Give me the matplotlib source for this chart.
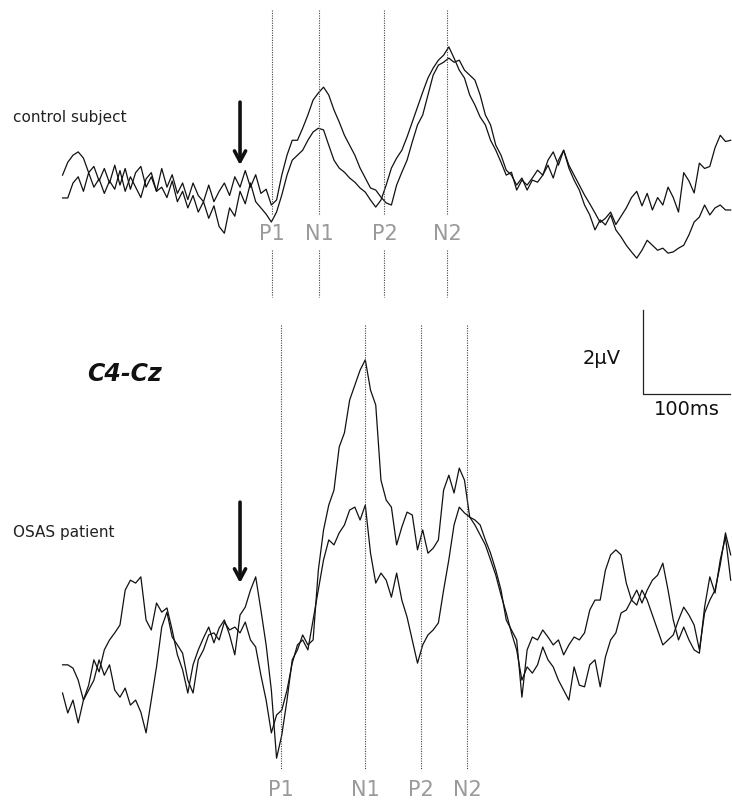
import numpy as np
import matplotlib
matplotlib.use("Agg")
import matplotlib.pyplot as plt

# sweeps are sampled every 6 ms, starting 204 ms before the stimulus (arrow)
t_start = -204
dt = 6

# control subject, two averaged sweeps (uV)
ctrl_a = [0.24, 0.55, 0.72, 0.80, 0.65, 0.30, 0.45, 0.10, 0.40, 0.05,
          0.48, 0.0, 0.40, -0.10, 0.30, 0.45, -0.05, 0.20, -0.15, 0.40,
          -0.05, 0.25, -0.20, 0.05, -0.35, 0.05, -0.25, -0.40, 0.0, -0.40,
          -0.15, 0.05, -0.25, 0.20, -0.05, 0.35, -0.05, 0.25, -0.20, -0.10,
          -0.48, -0.36, 0.24, 0.72, 1.08, 1.08, 1.37, 1.69, 2.05, 2.22,
          2.36, 2.17, 1.81, 1.52, 1.20, 0.96, 0.72, 0.41, 0.17, -0.07,
          -0.12, -0.29, -0.43, -0.48, 0.0, 0.31, 0.60, 1.04, 1.45, 1.69,
          2.17, 2.65, 2.89, 2.96, 3.06, 2.96, 3.01, 2.77, 2.65, 2.53,
          2.17, 1.69, 1.45, 0.96, 0.72, 0.36, 0.24, 0.0, 0.17, -0.12,
          0.12, 0.07, 0.24, 0.48, 0.17, 0.60, 0.84, 0.48, 0.24, 0.0,
          -0.24, -0.45, -0.67, -0.90, -0.80, -0.65, -0.95, -0.75, -0.55, -0.30,
          -0.15, -0.50, -0.20, -0.60, -0.30, -0.48, -0.05, -0.30, -0.65, 0.30,
          0.10, -0.19, 0.53, 0.40, 0.45, 0.90, 1.20, 1.05, 1.08]
ctrl_b = [-0.31, -0.31, 0.05, 0.20, -0.15, 0.30, -0.05, 0.15, -0.20, 0.10,
          -0.10, 0.35, -0.15, 0.20, -0.05, -0.30, 0.15, 0.30, -0.15, -0.05,
          -0.30, 0.10, -0.40, -0.15, -0.55, -0.25, -0.65, -0.40, -0.80, -0.50,
          -1.00, -1.16, -0.55, -0.75, -0.15, -0.45, 0.05, -0.40, -0.55, -0.70,
          -0.89, -0.65, -0.24, 0.24, 0.6, 0.72, 0.84, 1.08, 1.28, 1.37,
          1.33, 0.96, 0.6, 0.41, 0.31, 0.17, 0.07, -0.07, -0.17, -0.36,
          -0.53, -0.36, 0.0, 0.41, 0.65, 0.84, 1.16, 1.52, 1.88, 2.24,
          2.58, 2.82, 3.01, 3.13, 3.33, 3.06, 2.77, 2.58, 2.17, 1.93,
          1.64, 1.45, 1.08, 0.84, 0.55, 0.24, 0.31, -0.12, 0.12, 0.0,
          0.17, 0.36, 0.24, 0.6, 0.8, 0.48, 0.84, 0.41, 0.12, -0.12,
          -0.48, -0.72, -1.08, -0.84, -0.96, -0.72, -1.08, -1.25, -1.45, -1.61,
          -1.76, -1.57, -1.33, -1.45, -1.57, -1.52, -1.64, -1.61, -1.52, -1.45,
          -1.2, -0.89, -0.77, -0.48, -0.72, -0.55, -0.48, -0.6, -0.6]

# OSAS patient, two averaged sweeps (uV)
osas_a = [-1.08, -1.08, -1.16, -1.45, -1.93, -1.57, -0.96, -1.25, -0.72, -0.48,
          -0.31, -0.12, 0.72, 0.96, 0.89, 1.04, 0.0, -0.24, 0.41, 0.19,
          0.29, -0.24, -0.84, -1.2, -1.76, -1.08, -0.72, -0.43, -0.17, -0.55,
          -0.19, 0.0, -0.36, -0.84, 0.12, 0.31, 0.72, 1.04, 0.24, -0.6,
          -1.69, -3.33, -2.77, -1.93, -0.96, -0.72, -0.36, -0.6, -0.48, 1.2,
          2.17, 2.77, 3.13, 4.17, 4.51, 5.3, 5.66, 6.02, 6.27, 5.54,
          5.18, 3.37, 2.89, 2.72, 1.81, 2.24, 2.6, 2.53, 1.69, 2.17,
          1.61, 1.73, 1.93, 3.13, 3.49, 3.06, 3.66, 3.37, 2.48, 2.41,
          2.29, 1.93, 1.61, 1.2, 0.72, 0.0, -0.24, -0.48, -1.86, -0.72,
          -0.41, -0.48, -0.24, -0.41, -0.6, -0.48, -0.84, -0.6, -0.41, -0.48,
          -0.31, 0.24, 0.48, 0.48, 1.2, 1.57, 1.69, 1.57, 0.89, 0.48,
          0.36, 0.72, 0.48, 0.12, -0.24, -0.6, -0.48, -0.36, 0.0, 0.31,
          0.12, -0.12, -0.72, 0.17, 0.48, 0.72, 1.33, 2.1, 1.57]
osas_b = [-1.76, -2.24, -1.93, -2.48, -1.93, -1.69, -1.45, -0.96, -1.33, -1.08,
          -1.69, -1.86, -1.64, -2.05, -1.93, -2.22, -2.72, -1.93, -1.13, -0.17,
          0.19, -0.41, -0.6, -0.8, -1.45, -1.76, -0.96, -0.72, -0.36, -0.31,
          -0.48, -0.05, -0.24, -0.17, -0.31, -0.05, -0.48, -0.65, -1.33, -1.93,
          -2.72, -2.29, -2.17, -1.69, -1.04, -0.6, -0.48, -0.72, 0.0, 0.72,
          1.45, 1.93, 1.81, 2.1, 2.29, 2.65, 2.72, 2.41, 2.77, 1.61,
          0.89, 1.13, 0.96, 0.55, 1.13, 0.48, 0.07, -0.48, -1.04, -0.6,
          -0.36, -0.24, -0.07, 0.72, 1.45, 2.29, 2.72, 2.58, 2.48, 2.29,
          2.05, 1.81, 1.45, 1.08, 0.6, 0.17, -0.31, -0.72, -1.45, -1.13,
          -1.28, -1.08, -0.65, -0.96, -1.13, -1.45, -1.69, -1.93, -1.13, -1.57,
          -1.61, -1.08, -0.96, -1.61, -0.89, -0.48, -0.31, 0.17, 0.24, 0.48,
          0.72, 0.41, 0.72, 0.96, 1.08, 1.37, 0.72, 0.0, -0.48, -0.17,
          -0.48, -0.72, -0.8, 0.31, 1.04, 0.65, 1.45, 2.0, 0.96]

# component latencies (ms)
peak_names = ["P1", "N1", "P2", "N2"]
ctrl_lat = [37, 91, 166, 238]
osas_lat = [47, 144, 208, 261]

# layout, in the drawing units (ms across, uV up)
top_off = 10.48          # control traces are shifted up by this much
fig = plt.figure(figsize=(7.32, 8.09), dpi=100)
ax = fig.add_axes([0, 0, 1, 1])
ax.set_xlim(-275.9, 565.5)
ax.set_ylim(-4.554, 14.94)
ax.axis("off")

for v in (ctrl_a, ctrl_b):
    t = t_start + dt * np.arange(len(v))
    ax.plot(t, np.array(v) + top_off, color="#111111", lw=0.9)
for v in (osas_a, osas_b):
    t = t_start + dt * np.arange(len(v))
    ax.plot(t, v, color="#111111", lw=0.9)

dot = dict(color="#444444", lw=0.8, linestyle=(0, (1, 1.2)))
grey = "#9a9a9a"
for name, lat in zip(peak_names, ctrl_lat):
    ax.plot([lat, lat], [14.70, 9.76], **dot)
    ax.plot([lat, lat], [8.92, 7.78], **dot)
    ax.text(lat, 9.30, name, ha="center", va="center", fontsize=15, color=grey)
for name, lat in zip(peak_names, osas_lat):
    ax.plot([lat, lat], [7.11, -3.61], **dot)
    ax.text(lat, -4.10, name, ha="center", va="center", fontsize=15, color=grey)

# stimulus arrows
arrow = dict(arrowstyle="->,head_length=0.75,head_width=0.4", lw=2.6,
             color="#111111", shrinkA=0, shrinkB=0)
ax.annotate("", xy=(0, 10.96), xytext=(0, 12.48), arrowprops=arrow)
ax.annotate("", xy=(0, 0.89), xytext=(0, 2.84), arrowprops=arrow)

ax.text(-261, 12.12, "control subject", fontsize=11, va="center", color="#222222")
ax.text(-261, 2.12, "OSAS patient", fontsize=11, va="center", color="#222222")
ax.text(-176, 5.93, "C4-Cz", fontsize=17, fontweight="bold", fontstyle="italic",
        va="center", color="#111111")

# calibration bar: 2 uV / 100 ms
ax.plot([463, 463, 563], [7.47, 5.45, 5.45], color="#222222", lw=0.9)
ax.text(416, 6.31, "2\u00b5V", fontsize=14, ha="center", va="center", color="#111111")
ax.text(513, 5.08, "100ms", fontsize=14, ha="center", va="center", color="#111111")

plt.savefig("out.png", dpi=100)
